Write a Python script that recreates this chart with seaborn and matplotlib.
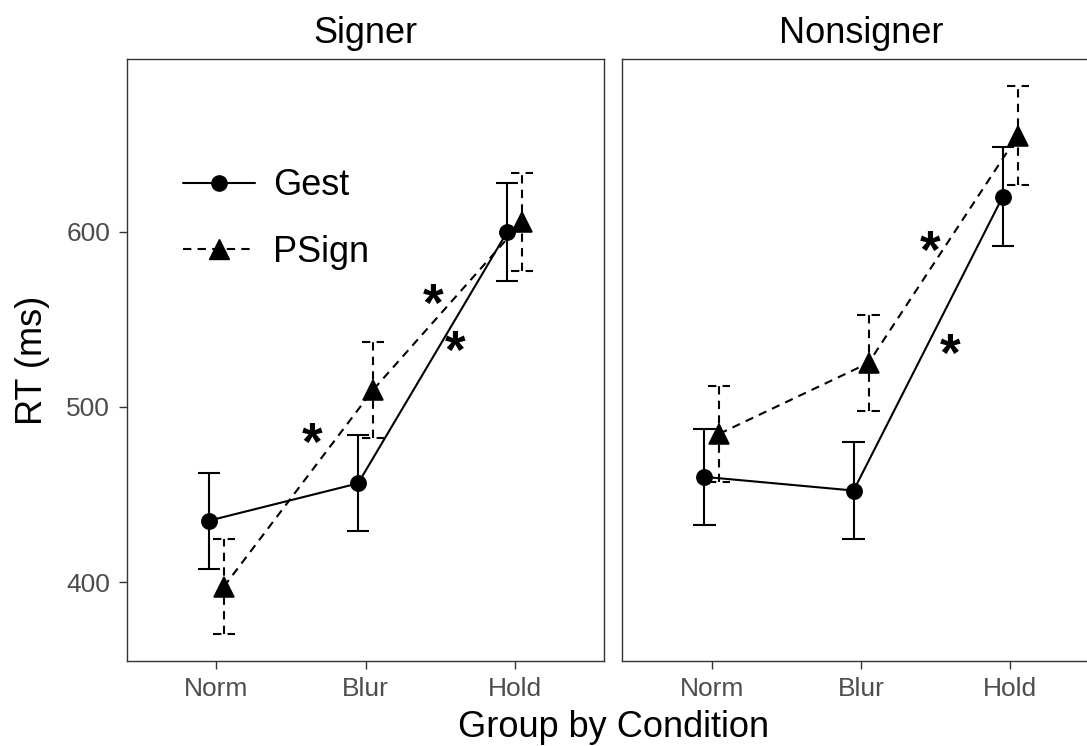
import numpy as np
import pandas as pd
import matplotlib
matplotlib.use("Agg")
import matplotlib.pyplot as plt
import seaborn as sns
from matplotlib.lines import Line2D

# ---------------- data ----------------
conditions = ["Norm", "Blur", "Hold"]
groups = ["Signer", "Nonsigner"]
stimuli = ["Gest", "PSign"]

signer_gest = [435.0, 456.3, 599.9]
signer_gest_se = [27.3, 27.4, 28.0]
signer_psign = [397.3, 509.6, 605.6]
signer_psign_se = [27.2, 27.6, 28.0]

nonsigner_gest = [460.0, 452.2, 620.0]
nonsigner_gest_se = [27.4, 27.6, 28.2]
nonsigner_psign = [484.6, 525.0, 654.6]
nonsigner_psign_se = [27.5, 27.6, 28.2]

# significance asterisks (x in category units, y in ms)
star_signer_x = [0.64, 1.45, 1.60]
star_signer_y = [482.6, 561.9, 535.3]
star_nonsigner_x = [1.46, 1.60]
star_nonsigner_y = [592.4, 533.4]

y_ticks = [400, 500, 600]

# ---------------- table ----------------
rows = []
series = {
    ("Signer", "Gest"): (signer_gest, signer_gest_se),
    ("Signer", "PSign"): (signer_psign, signer_psign_se),
    ("Nonsigner", "Gest"): (nonsigner_gest, nonsigner_gest_se),
    ("Nonsigner", "PSign"): (nonsigner_psign, nonsigner_psign_se),
}
for (g, s), (vals, ses) in series.items():
    for c, v, e in zip(conditions, vals, ses):
        rows.append(dict(Group=g, Condition=c, Stimulus=s, RT=v, SE=e))
df = pd.DataFrame(rows)

stars = {
    "Signer": (star_signer_x, star_signer_y),
    "Nonsigner": (star_nonsigner_x, star_nonsigner_y),
}

# ---------------- style ----------------
sns.set_style("white")
plt.rcParams["font.family"] = ["Liberation Sans", "DejaVu Sans"]
plt.rcParams["text.color"] = "black"

W, H = 1087, 746
fig = plt.figure(figsize=(W / 100, H / 100), dpi=100)

pan_w = 477.5
top, bot = 59.3, 660.7
lefts = [126.8, 622.3]
axes = [fig.add_axes([l / W, 1 - bot / H, pan_w / W, (bot - top) / H]) for l in lefts]

dash = (0, (4, 3))
lw = 1.5
styles = {"Gest": "-", "PSign": dash}
border = "#333333"

for ax, g in zip(axes, groups):
    sub = df[df.Group == g]
    sns.pointplot(data=sub, x="Condition", y="RT", hue="Stimulus",
                  order=conditions, hue_order=stimuli, dodge=0.1,
                  errorbar=None, palette=["black", "black"],
                  markers=["o", "^"], linestyles=["-", "--"],
                  markersize=11, linewidth=lw, ax=ax, legend=False)
    for line, s in zip(list(ax.lines), stimuli):
        line.set_linestyle(styles[s])
        line.set_zorder(4)
        if s == "PSign":
            line.set_markersize(14)
        xs = np.asarray(line.get_xdata(), dtype=float)
        d = sub[sub.Stimulus == s].set_index("Condition").loc[conditions]
        lo = d.RT.values - d.SE.values
        hi = d.RT.values + d.SE.values
        ax.vlines(xs, lo, hi, colors="black", linestyles=[styles[s]], lw=lw, zorder=2)
        ax.hlines(np.concatenate([lo, hi]), np.concatenate([xs, xs]) - 0.075,
                  np.concatenate([xs, xs]) + 0.075, colors="black",
                  linestyles=[styles[s]], lw=lw, zorder=2)
    sx, sy = stars[g]
    for x, y in zip(sx, sy):
        ax.annotate("*", (x, y), xytext=(0, -16.4), textcoords="offset points",
                    ha="center", va="baseline", fontsize=38, fontweight="bold",
                    color="black", zorder=5)

    ax.set_xlim(-0.6, 2.6)
    ax.set_ylim(355.1, 698.3)
    ax.set_yticks(y_ticks)
    ax.set_xlabel("")
    ax.set_ylabel("")
    ax.set_title(g, fontsize=26, pad=12, color="black")
    for sp in ax.spines.values():
        sp.set_visible(True)
        sp.set_color(border)
        sp.set_linewidth(1.0)
    ax.tick_params(axis="both", length=6, width=1.0, color=border,
                   labelsize=19, labelcolor="#4D4D4D", pad=6,
                   bottom=True, left=True)
    ax.grid(False)

axes[1].tick_params(axis="y", left=False, labelleft=False)

handles = [
    Line2D([], [], color="black", marker="o", ls="-", lw=lw, markersize=11),
    Line2D([], [], color="black", marker="^", ls=dash, lw=lw, markersize=14),
]
leg = axes[0].legend(handles, stimuli, loc="upper left", bbox_to_anchor=(0.118, 0.819),
                     frameon=False, fontsize=26, handlelength=2.0, handletextpad=0.5,
                     labelspacing=0.88, borderpad=0, borderaxespad=0)
for t in leg.get_texts():
    t.set_color("black")

fig.text(613.3 / W, 1 - 737 / H, "Group by Condition", ha="center", va="baseline",
         fontsize=26, color="black")
fig.text(32 / W, 1 - 360 / H, "RT (ms)", ha="center", va="center",
         rotation=90, fontsize=26, color="black")

fig.savefig("out.png", dpi=100)
